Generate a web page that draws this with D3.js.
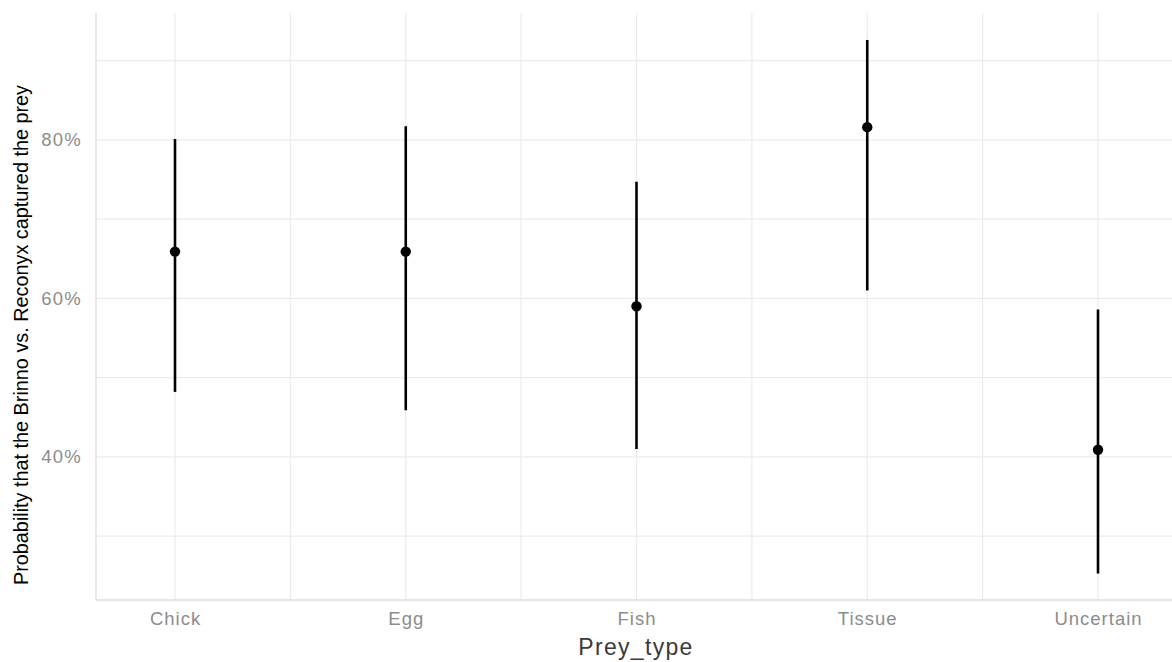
<!DOCTYPE html>
<html>
<head>
<meta charset="utf-8">
<script src="https://cdn.jsdelivr.net/npm/d3@7"></script>
<style>
  body { margin: 0; background: #fff; }
  svg { display: block; }
</style>
</head>
<body>
<div id="chart"></div>
<script>
const categories = ["Chick", "Egg", "Fish", "Tissue", "Uncertain"]
const estimate = [0.659, 0.659, 0.590, 0.816, 0.409]
const lower = [0.482, 0.459, 0.410, 0.610, 0.253]
const upper = [0.801, 0.817, 0.747, 0.926, 0.586]
const majorTicks = [0.4, 0.6, 0.8]
const minorTicks = [0.3, 0.5, 0.7, 0.9]

const width = 1172
const height = 662
const margin = { top: 13, left: 96, right: 0, bottom: 62 }

const x = d3.scalePoint()
    .domain(categories)
    .range([175, 1098])

const y = d3.scaleLinear()
    .domain([0.2195, 0.96])
    .range([height - margin.bottom, margin.top])

const svg = d3.select("#chart").append("svg")
    .attr("width", width)
    .attr("height", height)
    .attr("font-family", "Liberation Sans, Arial, sans-serif")

// grid
const grid = svg.append("g").attr("stroke", "#ececec").attr("stroke-width", 1.2)
grid.selectAll("line.minor-y")
    .data(minorTicks)
    .join("line")
    .attr("x1", margin.left).attr("x2", width)
    .attr("y1", d => y(d)).attr("y2", d => y(d))
grid.selectAll("line.major-y")
    .data(majorTicks)
    .join("line")
    .attr("x1", margin.left).attr("x2", width)
    .attr("y1", d => y(d)).attr("y2", d => y(d))
const step = x.step()
grid.selectAll("line.major-x")
    .data(categories)
    .join("line")
    .attr("x1", d => x(d)).attr("x2", d => x(d))
    .attr("y1", margin.top).attr("y2", height - margin.bottom)
grid.selectAll("line.minor-x")
    .data(categories.slice(1))
    .join("line")
    .attr("x1", d => x(d) - step / 2).attr("x2", d => x(d) - step / 2)
    .attr("y1", margin.top).attr("y2", height - margin.bottom)

// panel edges
svg.append("line")
    .attr("x1", margin.left).attr("x2", margin.left)
    .attr("y1", margin.top).attr("y2", height - margin.bottom)
    .attr("stroke", "#e2e2e2").attr("stroke-width", 1.5)
svg.append("line")
    .attr("x1", margin.left).attr("x2", width)
    .attr("y1", height - margin.bottom).attr("y2", height - margin.bottom)
    .attr("stroke", "#dcdcdc").attr("stroke-width", 1.5)

// axes
const yAxis = g => g
    .attr("transform", `translate(${margin.left},0)`)
    .call(d3.axisLeft(y).tickValues(majorTicks).tickFormat(d3.format(".0%")).tickSize(0).tickPadding(14))
    .call(g => g.select(".domain").remove())
    .call(g => g.selectAll("text").attr("fill", "#8c8c8c").attr("font-size", 18.5).attr("letter-spacing", 1.2))

const xAxis = g => g
    .attr("transform", `translate(0,${height - margin.bottom})`)
    .call(d3.axisBottom(x).tickSize(0).tickPadding(12))
    .call(g => g.select(".domain").remove())
    .call(g => g.selectAll("text").attr("fill", "#8c8c8c").attr("font-size", 18.5).attr("letter-spacing", 1))

svg.append("g").call(yAxis).attr("font-family", null)
svg.append("g").call(xAxis).attr("font-family", null)

// titles
svg.append("text")
    .attr("x", 636)
    .attr("y", 655)
    .attr("text-anchor", "middle")
    .attr("fill", "#3a3a3a")
    .attr("letter-spacing", 1.3)
    .style("font-size", "23px")
    .text("Prey_type")

svg.append("text")
    .attr("transform", `translate(28,335) rotate(-90)`)
    .attr("text-anchor", "middle")
    .attr("fill", "#000")
    .attr("textLength", 500)
    .attr("lengthAdjust", "spacingAndGlyphs")
    .style("font-family", "Liberation Sans Narrow, Arial Narrow, sans-serif")
    .style("font-size", "20px")
    .text("Probability that the Brinno vs. Reconyx captured the prey")

// error bars and points
const rows = categories.map((c, i) => ({ c, est: estimate[i], lo: lower[i], hi: upper[i] }))

svg.append("g")
    .attr("stroke", "#000")
    .attr("stroke-width", 2.6)
    .selectAll("line")
    .data(rows)
    .join("line")
    .attr("x1", d => x(d.c)).attr("x2", d => x(d.c))
    .attr("y1", d => y(d.lo)).attr("y2", d => y(d.hi))

svg.append("g")
    .selectAll("circle")
    .data(rows)
    .join("circle")
    .attr("cx", d => x(d.c))
    .attr("cy", d => y(d.est))
    .attr("r", 5.2)
    .attr("fill", "#000")
</script>
</body>
</html>
